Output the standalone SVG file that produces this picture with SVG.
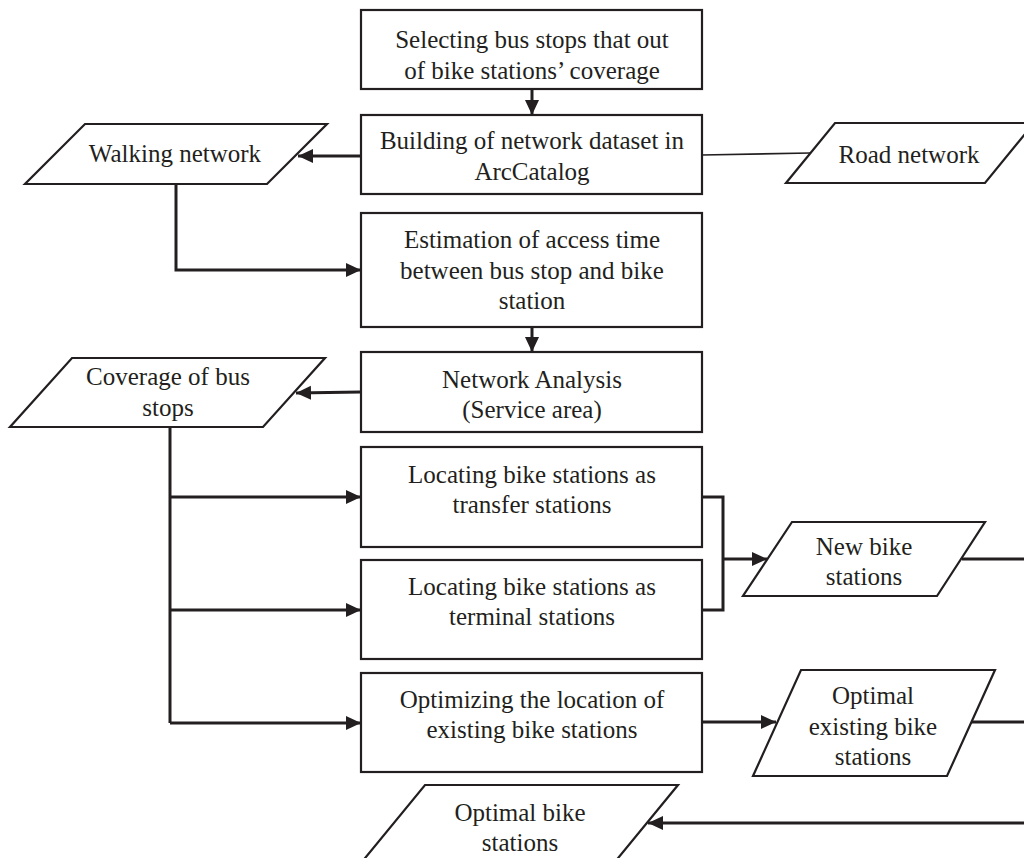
<svg xmlns="http://www.w3.org/2000/svg" width="1024" height="858" viewBox="0 0 1024 858">
<defs>
<marker id="ah" markerUnits="userSpaceOnUse" markerWidth="16" markerHeight="16" refX="15" refY="7" orient="auto">
<path d="M0,0 L15,7 L0,14 Z" fill="#231f20"/>
</marker>
<style>
.box{fill:#fff;stroke:#231f20;stroke-width:2.2}
.t{font-family:"Liberation Serif","Times New Roman",serif;font-size:25px;fill:#231f20;text-anchor:middle}
.c{fill:none;stroke:#231f20;stroke-width:3}
.ca{fill:none;stroke:#231f20;stroke-width:3;marker-end:url(#ah)}
.thin{fill:none;stroke:#231f20;stroke-width:1.6}
</style>
</defs>
<rect width="1024" height="858" fill="#fff"/>
<g id="connectors">
<path class="ca" d="M532,89 V115"/>
<path class="ca" d="M361,156 H298"/>
<path class="thin" d="M702,155 L810,153"/>
<path class="ca" d="M176,184 V270 H361"/>
<path class="ca" d="M532,327 V352"/>
<path class="ca" d="M361,392 L296,393"/>
<path class="c" d="M170,427 V723"/>
<path class="ca" d="M170,497 H361"/>
<path class="ca" d="M170,610 H361"/>
<path class="ca" d="M170,723 H361"/>
<path class="c" d="M702,497 H723 V610 H702"/>
<path class="ca" d="M723,559 H767"/>
<path class="c" d="M962,559 H1024"/>
<path class="ca" d="M702,722 H776"/>
<path class="c" d="M970,722 H1024"/>
<path class="ca" d="M1024,823 H648"/>
</g>
<g id="n1"><rect class="box" x="361" y="10" width="341" height="79"/>
<text class="t" x="532" y="48">Selecting bus stops that out</text>
<text class="t" x="532" y="79">of bike stations’ coverage</text></g>
<g id="n2"><rect class="box" x="361" y="115" width="341" height="79"/>
<text class="t" x="532" y="149">Building of network dataset in</text>
<text class="t" x="532" y="180">ArcCatalog</text></g>
<g id="n3"><polygon class="box" points="85,124 327,124 267,184 25,184"/>
<text class="t" x="175" y="162">Walking network</text></g>
<g id="n4"><polygon class="box" points="835,123 1034,123 985,183 786,183"/>
<text class="t" x="909" y="163">Road network</text></g>
<g id="n5"><rect class="box" x="361" y="213" width="341" height="114"/>
<text class="t" x="532" y="248">Estimation of access time</text>
<text class="t" x="532" y="279">between bus stop and bike</text>
<text class="t" x="532" y="309">station</text></g>
<g id="n6"><rect class="box" x="361" y="352" width="341" height="80"/>
<text class="t" x="532" y="388">Network Analysis</text>
<text class="t" x="532" y="418">(Service area)</text></g>
<g id="n7"><polygon class="box" points="72,358 325,358 263,427 10,427"/>
<text class="t" x="168" y="385">Coverage of bus</text>
<text class="t" x="168" y="416">stops</text></g>
<g id="n8"><rect class="box" x="361" y="447" width="341" height="100"/>
<text class="t" x="532" y="483">Locating bike stations as</text>
<text class="t" x="532" y="513">transfer stations</text></g>
<g id="n9"><rect class="box" x="361" y="560" width="341" height="99"/>
<text class="t" x="532" y="595">Locating bike stations as</text>
<text class="t" x="532" y="625">terminal stations</text></g>
<g id="n10"><polygon class="box" points="792,522 985,522 937,596 743,596"/>
<text class="t" x="864" y="555">New bike</text>
<text class="t" x="864" y="585">stations</text></g>
<g id="n11"><rect class="box" x="361" y="673" width="341" height="99"/>
<text class="t" x="532" y="708">Optimizing the location of</text>
<text class="t" x="532" y="738">existing bike stations</text></g>
<g id="n12"><polygon class="box" points="801,670 995,670 947,776 753,776"/>
<text class="t" x="873" y="704">Optimal</text>
<text class="t" x="873" y="735">existing bike</text>
<text class="t" x="873" y="765">stations</text></g>
<g id="n13"><polygon class="box" points="425,785 678,785 605,874 352,874"/>
<text class="t" x="520" y="821">Optimal bike</text>
<text class="t" x="520" y="851">stations</text></g>
</svg>
